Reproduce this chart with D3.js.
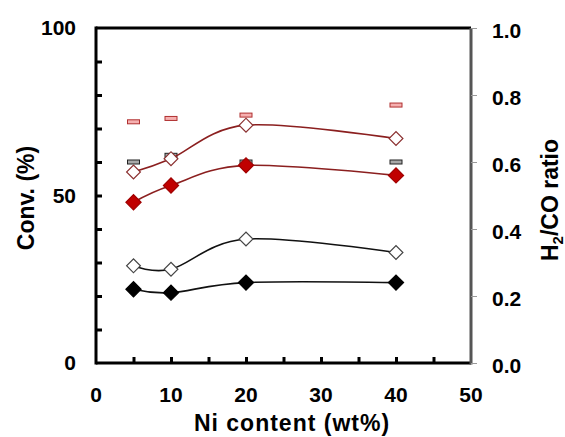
<!DOCTYPE html>
<html><head><meta charset="utf-8">
<script src="https://cdn.jsdelivr.net/npm/d3@7"></script>
<style>body{margin:0;background:#fff}svg{display:block}text{font-family:"Liberation Sans",Arial,sans-serif;font-weight:bold}</style>
</head><body><svg id="c" width="565" height="437"></svg>
<script>
const nickel = [5, 10, 20, 40];
const convBlackFilled = [22, 21, 24, 24];
const convBlackOpen = [29, 28, 37, 33];
const convRedFilled = [48, 53, 59, 56];
const convRedOpen = [57, 61, 71, 67];
const ratioBlack = [0.60, 0.62, 0.60, 0.60];
const ratioRed = [0.72, 0.73, 0.74, 0.77];
const xTicks = [0, 10, 20, 30, 40, 50];
const yLeftTicks = [0, 50, 100];
const yRightTicks = [0, 0.2, 0.4, 0.6, 0.8, 1.0];

const svg = d3.select("#c");
const L = 96, R = 471, T = 28, B = 363;
const x = d3.scaleLinear().domain([0, 50]).range([L, R]);
const yL = d3.scaleLinear().domain([0, 100]).range([B, T]);
const yR = d3.scaleLinear().domain([0, 1]).range([B, T]);

function dashes(vals, fill, stroke) {
  svg.append("g").selectAll("rect").data(nickel.map((n, i) => [n, vals[i]])).join("rect")
    .attr("x", d => x(d[0]) - 6).attr("y", d => yR(d[1]) - 2)
    .attr("width", 12).attr("height", 4)
    .attr("fill", fill).attr("stroke", stroke).attr("stroke-width", 1);
}
dashes(ratioRed, "#f6b0b0", "#b03030");
dashes(ratioBlack, "#a8a8a8", "#222");

const line = d3.line().x(d => x(d[0])).y(d => yL(d[1])).curve(d3.curveCardinal.tension(0));
function series(vals, lineColor, fill, stroke, size) {
  const pts = nickel.map((n, i) => [n, vals[i]]);
  svg.append("path").attr("d", line(pts)).attr("fill", "none")
    .attr("stroke", lineColor).attr("stroke-width", 1.6);
  svg.append("g").selectAll("path").data(pts).join("path")
    .attr("transform", d => `translate(${x(d[0])},${yL(d[1])}) rotate(45)`)
    .attr("d", d3.symbol().type(d3.symbolSquare).size(size)())
    .attr("fill", fill).attr("stroke", stroke).attr("stroke-width", 1.2);
}
series(convBlackOpen, "#111", "#fff", "#444", 95);
series(convBlackFilled, "#111", "#000", "#000", 115);
series(convRedOpen, "#8b1f1f", "#fff", "#8b3030", 95);
series(convRedFilled, "#8b1f1f", "#c00000", "#a00000", 115);

svg.append("line").attr("x1", L).attr("x2", R).attr("y1", T).attr("y2", T).attr("stroke", "#000").attr("stroke-width", 3);
svg.append("line").attr("x1", L).attr("x2", R).attr("y1", B).attr("y2", B).attr("stroke", "#000").attr("stroke-width", 3);
svg.append("line").attr("x1", R).attr("x2", R).attr("y1", T).attr("y2", B + 1.5).attr("stroke", "#555").attr("stroke-width", 3);
svg.append("line").attr("x1", L).attr("x2", L).attr("y1", T - 1.5).attr("y2", B + 1.5).attr("stroke", "#000").attr("stroke-width", 3);

const gL = svg.append("g").attr("transform", `translate(${L},0)`)
  .call(d3.axisRight(yL).tickValues(d3.range(10, 100, 10)).tickSize(6).tickFormat(""));
gL.select(".domain").remove();
gL.selectAll("line").attr("stroke", "#000").attr("stroke-width", 3);
svg.append("g").selectAll("text").data(yLeftTicks).join("text")
  .attr("x", 76).attr("y", d => yL(d) + 7).attr("text-anchor", "end")
  .attr("font-size", 21).text(d => d);

const gB = svg.append("g").attr("transform", `translate(0,${B})`)
  .call(d3.axisTop(x).tickValues(d3.range(5, 50, 5)).tickSize(6).tickFormat(""));
gB.select(".domain").remove();
gB.selectAll("line").attr("stroke", "#000").attr("stroke-width", 3);
svg.append("g").selectAll("text").data(xTicks).join("text")
  .attr("x", d => x(d)).attr("y", 402).attr("text-anchor", "middle")
  .attr("font-size", 21).text(d => d);

const gR = svg.append("g").attr("transform", `translate(${R},0)`)
  .call(d3.axisRight(yR).tickValues(yRightTicks).tickSize(6).tickFormat(""));
gR.select(".domain").remove();
gR.selectAll("line").attr("stroke", "#999").attr("stroke-width", 1);
svg.append("g").selectAll("text").data(yRightTicks).join("text")
  .attr("x", 492).attr("y", d => yR(d) + 10).attr("text-anchor", "start")
  .attr("font-size", 21).text(d => d3.format(".1f")(d));

svg.append("text").attr("x", 292).attr("y", 431).attr("text-anchor", "middle")
  .attr("font-size", 23).attr("letter-spacing", 1).text("Ni content (wt%)");
svg.append("text").attr("transform", `translate(34,198) rotate(-90)`)
  .attr("text-anchor", "middle").attr("font-size", 23).text("Conv. (%)");
const rt = svg.append("text").attr("transform", `translate(558,200) rotate(-90)`)
  .attr("text-anchor", "middle").attr("font-size", 23);
rt.append("tspan").text("H");
rt.append("tspan").attr("font-size", 15).attr("dy", 5).text("2");
rt.append("tspan").attr("dy", -5).text("/CO ratio");
</script></body></html>
